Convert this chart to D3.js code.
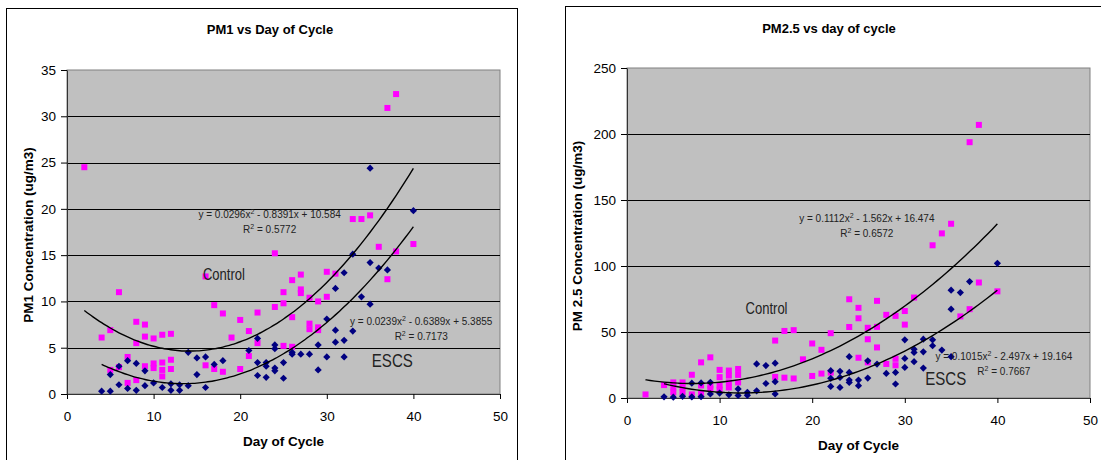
<!DOCTYPE html>
<html>
<head>
<meta charset="utf-8">
<script src="https://cdn.jsdelivr.net/npm/d3@7"></script>
<style>
body { margin: 0; background: #fff; }
text { font-family: "Liberation Sans", Arial, sans-serif; }
</style>
</head>
<body>
<svg id="chart" width="1101" height="460"></svg>
<script>
// day of cycle ticks shared by both charts
const xTicks = [0, 10, 20, 30, 40, 50]
const pm1Ticks = [0, 5, 10, 15, 20, 25, 30, 35]
const pm25Ticks = [0, 50, 100, 150, 200, 250]

// PM1 readings [day, ug/m3]
const pm1Control = [[2,24.5],[4,6.1],[5,6.9],[5,2.6],[6,11.0],[6,2.9],[7,4.0],[7,1.2],[8,7.8],[8,5.5],[8,1.5],
  [9,7.5],[9,6.2],[9,3.0],[10,6.0],[10,3.3],[10,2.8],[11,6.4],[11,3.4],[11,2.6],[11,1.9],[12,6.5],[12,3.7],[12,2.7],
  [16,12.7],[16,3.1],[17,9.6],[17,2.7],[18,8.7],[18,2.4],[19,6.1],[20,8.0],[20,2.7],[21,6.8],[21,4.1],[22,8.8],[22,5.5],
  [24,15.2],[24,9.4],[25,11.0],[25,9.8],[25,5.2],[26,12.3],[26,8.3],[26,5.1],[27,12.9],[27,11.3],[27,10.9],
  [28,10.4],[28,7.6],[28,7.0],[29,10.0],[29,7.2],[29,6.9],[30,13.2],[30,10.5],[31,13.0],[33,18.9],[34,18.9],
  [35,19.3],[36,15.9],[37,30.9],[37,12.4],[38,32.4],[38,15.4],[40,16.2]]
const pm1Escs = [[4,0.3],[5,0.3],[5,2.1],[6,1.0],[6,3.0],[7,0.6],[7,3.6],[8,0.4],[8,3.3],[9,0.9],[9,2.5],[10,1.2],
  [11,0.7],[12,0.4],[12,1.1],[13,0.4],[13,1.0],[14,4.5],[14,0.9],[15,3.9],[15,2.1],[16,4.0],[16,0.7],[17,3.2],[18,3.6],
  [21,4.7],[22,6.0],[22,3.4],[22,2.0],[23,3.4],[23,3.0],[23,1.8],[24,5.3],[24,4.9],[24,2.8],[24,2.5],[25,3.4],[25,1.7],
  [26,4.5],[26,4.3],[27,4.3],[28,4.3],[29,5.3],[29,2.6],[30,8.1],[30,4.0],[31,11.4],[31,6.9],[31,5.6],[32,13.1],
  [32,5.8],[32,4.0],[33,15.1],[33,6.8],[34,10.5],[35,24.4],[35,14.2],[35,9.7],[36,13.6],[37,13.4],[40,19.8]]

// PM2.5 readings [day, ug/m3]
const pm25Control = [[2,2.7],[4,9.8],[5,11.8],[5,8.0],[5,4.3],[6,11.8],[6,8.0],[6,4.5],[7,17.6],[7,2.7],[8,27.0],
  [8,9.5],[8,3.5],[9,30.8],[9,9.5],[9,6.8],[10,21.3],[10,15.8],[10,9.5],[10,6.3],[11,20.8],[11,17.0],[11,11.8],[11,8.0],
  [12,22.0],[12,17.5],[12,11.8],[16,43.5],[16,16.0],[17,50.8],[17,15.4],[18,51.4],[18,14.8],[19,29.3],[20,41.3],
  [20,16.7],[21,36.5],[21,18.5],[22,49.1],[22,19.2],[24,74.8],[24,53.8],[25,68.3],[25,60.4],[25,30.5],[26,53.2],
  [26,44.5],[26,27.0],[27,73.6],[27,53.9],[27,38.3],[28,63.0],[28,25.8],[29,62.2],[29,29.7],[29,24.8],[30,65.9],
  [30,55.6],[31,76.1],[33,115.7],[34,124.7],[35,132.0],[36,61.8],[37,193.8],[37,67.3],[38,206.9],[38,87.5],[40,80.8]]
const pm25Escs = [[4,0.9],[5,0.6],[6,1.3],[7,0.8],[7,11.2],[8,1.0],[8,11.4],[9,3.1],[9,11.9],[10,3.7],[11,2.4],
  [12,1.9],[12,6.9],[13,2.0],[13,4.3],[14,5.4],[14,25.8],[15,11.0],[15,24.6],[16,3.1],[16,12.4],[16,26.4],[22,20.7],
  [22,14.9],[22,8.8],[23,20.2],[23,15.6],[23,8.0],[24,31.3],[24,19.4],[24,13.6],[24,11.8],[25,13.6],[25,9.3],[26,28.2],
  [26,15.1],[27,25.7],[28,18.6],[29,19.4],[29,10.6],[30,44.1],[30,30.0],[30,23.2],[31,37.0],[31,34.5],[31,27.5],
  [32,44.6],[32,35.0],[32,22.7],[33,44.1],[33,39.6],[34,36.3],[35,81.7],[35,67.3],[35,31.3],[36,79.9],[37,88.2],[40,102.0]]

// polynomial trendlines shown on the charts [a, b, c] for a*x^2 + b*x + c
const pm1ControlFit = [0.0296, -0.8391, 10.584]
const pm1EscsFit = [0.0239, -0.6389, 5.3855]
const pm25ControlFit = [0.1112, -1.562, 16.474]
const pm25EscsFit = [0.1015, -2.497, 19.164]

const svg = d3.select("#chart")
const magenta = "#ff00ff"
const navy = "#000080"

function eqText(g, x, y, parts, r2) {
  const t = g.append("text").attr("x", x).attr("y", y)
    .attr("text-anchor", "middle").attr("font-size", 10).attr("fill", "#222")
  t.append("tspan").text(parts[0])
  t.append("tspan").attr("dy", -4).attr("font-size", 7).text("2")
  t.append("tspan").attr("dy", 4).text(parts[1])
  const r = g.append("text").attr("x", x).attr("y", y + 15)
    .attr("text-anchor", "middle").attr("font-size", 10).attr("fill", "#222")
  r.append("tspan").text("R")
  r.append("tspan").attr("dy", -4).attr("font-size", 7).text("2")
  r.append("tspan").attr("dy", 4).text(" = " + r2)
}

function drawChart(c) {
  const g = svg.append("g")
  g.append("rect")
    .attr("x", c.frame[0] + 0.5).attr("y", c.frame[1] + 0.5)
    .attr("width", c.frame[2]).attr("height", 500)
    .attr("fill", "#fff").attr("stroke", "#000")

  const x = d3.scaleLinear().domain([0, 50]).range([c.left, c.right])
  const y = d3.scaleLinear().domain([0, c.yTicks[c.yTicks.length - 1]]).range([c.bottom, c.top])

  g.append("rect")
    .attr("x", c.left).attr("y", c.top)
    .attr("width", c.right - c.left).attr("height", c.bottom - c.top)
    .attr("fill", "#c0c0c0").attr("stroke", "#808080")

  g.selectAll(".grid")
    .data(c.yTicks.slice(1, -1))
    .join("line")
    .attr("x1", c.left).attr("x2", c.right)
    .attr("y1", d => Math.round(y(d)) + 0.5).attr("y2", d => Math.round(y(d)) + 0.5)
    .attr("stroke", "#000")

  const xAxis = g.append("g").attr("transform", `translate(0,${c.bottom})`)
    .call(d3.axisBottom(x).tickValues(xTicks).tickSize(5).tickSizeOuter(0).tickPadding(12))
  const yAxis = g.append("g").attr("transform", `translate(${c.left},0)`)
    .call(d3.axisLeft(y).tickValues(c.yTicks).tickSize(6).tickSizeOuter(0).tickPadding(5))
  for (const a of [xAxis, yAxis]) {
    a.selectAll("text").attr("font-size", 13.5).attr("font-family", "Liberation Sans, Arial, sans-serif").attr("fill", "#000")
    a.select(".domain").attr("stroke", "#333")
    a.selectAll(".tick line").attr("stroke", "#000")
  }

  // titles
  g.append("text").attr("x", c.titlePos[0]).attr("y", c.titlePos[1])
    .attr("text-anchor", "middle").attr("font-size", 13).attr("font-weight", "bold").text(c.title)
  g.append("text").attr("x", (c.left + c.right) / 2).attr("y", c.bottom + 52)
    .attr("text-anchor", "middle").attr("font-size", 13.5).attr("font-weight", "bold").text("Day of Cycle")
  g.append("text")
    .attr("transform", `translate(${c.yTitleX},${(c.top + c.bottom) / 2 + 3}) rotate(-90)`)
    .attr("text-anchor", "middle").attr("font-size", 13.5).attr("font-weight", "bold").text(c.yTitle)

  // markers
  g.selectAll(".ctl")
    .data(c.control)
    .join("rect")
    .attr("x", d => x(d[0]) - 3).attr("y", d => y(d[1]) - 3)
    .attr("width", 6).attr("height", 6)
    .attr("fill", magenta)
  g.selectAll(".escs")
    .data(c.escs)
    .join("path")
    .attr("d", d => {
      const px = x(d[0]), py = y(d[1])
      return `M${px},${py - 3.6}L${px + 3.6},${py}L${px},${py + 3.6}L${px - 3.6},${py}Z`
    })
    .attr("fill", navy)

  // trendlines
  const line = d3.line().x(d => x(d[0])).y(d => y(d[1])).curve(d3.curveMonotoneX)
  for (const [fit, from] of [[c.controlFit, 2], [c.escsFit, 4]]) {
    const pts = d3.range(from, 40.01, 0.5).map(d => [d, fit[0] * d * d + fit[1] * d + fit[2]])
    g.append("path").attr("d", line(pts))
      .attr("fill", "none").attr("stroke", "#000").attr("stroke-width", 1.4)
  }

  // annotations (narrow lettering, squeezed to the reference width)
  eqText(g, x(c.controlEq[0]), y(c.controlEq[1]), c.controlEq[2], c.controlEq[3])
  eqText(g, x(c.escsEq[0]), y(c.escsEq[1]), c.escsEq[2], c.escsEq[3])
  g.append("text").attr("x", x(c.controlLabel[0])).attr("y", y(c.controlLabel[1]))
    .attr("font-size", 16).attr("fill", "#222")
    .attr("textLength", 42).attr("lengthAdjust", "spacingAndGlyphs")
    .text("Control")
  g.append("text").attr("x", x(c.escsLabel[0])).attr("y", y(c.escsLabel[1]))
    .attr("font-size", 17.5).attr("fill", "#222")
    .attr("textLength", 41).attr("lengthAdjust", "spacingAndGlyphs")
    .text("ESCS")
}

drawChart({
  frame: [6, 8, 511], left: 67, right: 500, top: 70, bottom: 394,
  yTicks: pm1Ticks, title: "PM1 vs Day of Cycle", titlePos: [270, 34],
  yTitle: "PM1 Concentration (ug/m3)", yTitleX: 33,
  control: pm1Control, escs: pm1Escs, controlFit: pm1ControlFit, escsFit: pm1EscsFit,
  controlEq: [23.4, 19, ["y = 0.0296x", " - 0.8391x + 10.584"], "0.5772"],
  escsEq: [40.9, 7.45, ["y = 0.0239x", " - 0.6389x + 5.3855"], "0.7173"],
  controlLabel: [15.7, 12.3], escsLabel: [35.2, 2.9]
})

drawChart({
  frame: [565, 6, 600], left: 627, right: 1090, top: 68, bottom: 398,
  yTicks: pm25Ticks, title: "PM2.5 vs day of cycle", titlePos: [829, 33],
  yTitle: "PM 2.5 Concentration (ug/m3)", yTitleX: 582,
  control: pm25Control, escs: pm25Escs, controlFit: pm25ControlFit, escsFit: pm25EscsFit,
  controlEq: [25.9, 133.5, ["y = 0.1112x", " - 1.562x + 16.474"], "0.6572"],
  escsEq: [40.7, 29, ["y = 0.1015x", " - 2.497x + 19.164"], "0.7667"],
  controlLabel: [12.8, 64], escsLabel: [32.2, 9.7]
})
</script>
</body>
</html>
